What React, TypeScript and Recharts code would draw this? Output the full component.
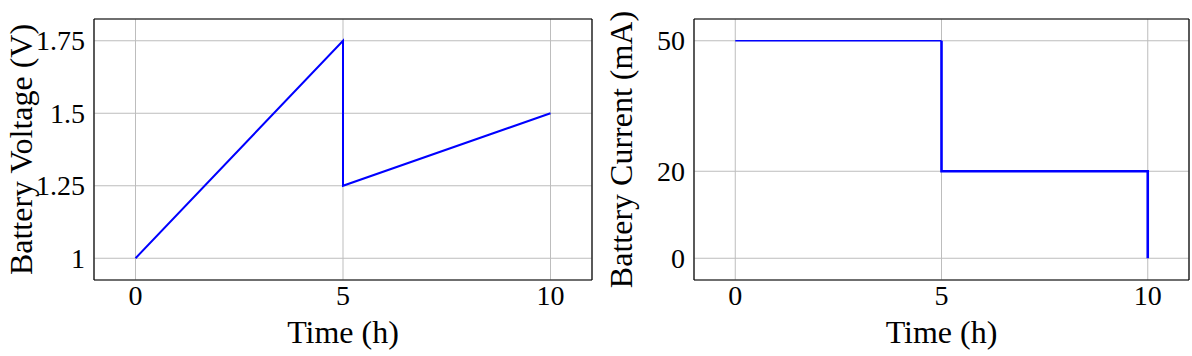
import React from "react";
import { CartesianGrid, Line, LineChart, XAxis, YAxis } from "recharts";

const voltageTime = [0, 5, 5, 10];
const voltageValues = [1, 1.75, 1.25, 1.5];
const voltageTicks = [1, 1.25, 1.5, 1.75];

const currentTimeHigh = [0, 5];
const currentValuesHigh = [50, 50];
const currentTimeLow = [5, 5, 10, 10];
const currentValuesLow = [50, 20, 20, 0];
const currentTicks = [0, 20, 50];

const timeTicks = [0, 5, 10];
const timeMarks = [0, 2.5, 5, 7.5, 10];

const FONT = "'Liberation Serif', 'Times New Roman', serif";
const TICK_SIZE = 28;
const TITLE_SIZE = 32;
const PLOT_HEIGHT = 261;
const TOP = 19;
const BOTTOM = 76;
const LEFT = 94;

const toRows = (xs: number[], ys: number[]) => xs.map((t, i) => ({ t, v: ys[i] }));

function XLabelTick({ x, y, payload }: any) {
  return (
    <text x={x} y={y + 25} textAnchor="middle" fontSize={TICK_SIZE} fontFamily={FONT} fill="#000">
      {payload.value}
    </text>
  );
}

function XMarkTick({ x, y, payload }: any) {
  const len = payload.value % 5 === 0 ? 8 : 5;
  return (
    <g stroke="#7a7a7a" strokeWidth={1.2}>
      <line x1={x} x2={x} y1={y} y2={y + len} />
      <line x1={x} x2={x} y1={y + PLOT_HEIGHT} y2={y + PLOT_HEIGHT - len} />
    </g>
  );
}

function YLabelTick({ x, y, payload }: any) {
  return (
    <text x={x - 9} y={y + 9.5} textAnchor="end" fontSize={TICK_SIZE} fontFamily={FONT} fill="#000">
      {payload.value}
    </text>
  );
}

function makeYMarkTick(plotWidth: number) {
  return function YMarkTick({ x, y }: any) {
    return (
      <g stroke="#7a7a7a" strokeWidth={1.2}>
        <line x1={x} x2={x - 8} y1={y} y2={y} />
        <line x1={x - plotWidth} x2={x - plotWidth + 8} y1={y} y2={y} />
      </g>
    );
  };
}

function yTitle(text: string, cx: number) {
  return ({ viewBox }: any) => {
    const cy = viewBox.y + viewBox.height / 2;
    return (
      <text
        x={cx}
        y={cy}
        transform={`rotate(-90 ${cx} ${cy})`}
        textAnchor="middle"
        dominantBaseline="central"
        fontSize={TITLE_SIZE}
        fontFamily={FONT}
        fill="#000"
      >
        {text}
      </text>
    );
  };
}

function xTitle({ viewBox }: any) {
  const cx = viewBox.x + viewBox.width / 2;
  return (
    <text x={cx} y={343} textAnchor="middle" fontSize={TITLE_SIZE} fontFamily={FONT} fill="#000">
      Time (h)
    </text>
  );
}

interface PanelProps {
  width: number;
  rightWidth: number;
  yDomain: [number, number];
  yTicks: number[];
  yLabel: string;
  children: React.ReactNode;
}

function Panel({ width, rightWidth, yDomain, yTicks, yLabel, children }: PanelProps) {
  const plotWidth = width - LEFT - rightWidth;
  return (
    <LineChart width={width} height={356} margin={{ top: 0, right: 0, bottom: 0, left: 0 }} style={{ fontFamily: FONT }}>
      <CartesianGrid stroke="#bdbdbd" strokeWidth={1} />
      <XAxis
        type="number"
        dataKey="t"
        domain={[-1, 11]}
        ticks={timeTicks}
        height={BOTTOM}
        tickSize={0}
        tickMargin={0}
        tickLine={false}
        axisLine={{ stroke: "#000", strokeWidth: 1.2 }}
        tick={XLabelTick}
        allowDuplicatedCategory
        label={{ content: xTitle }}
      />
      <XAxis
        xAxisId="marks"
        orientation="top"
        type="number"
        dataKey="t"
        domain={[-1, 11]}
        ticks={timeMarks}
        height={TOP}
        tickSize={0}
        tickMargin={0}
        tickLine={false}
        axisLine={{ stroke: "#000", strokeWidth: 1.2 }}
        tick={XMarkTick}
      />
      <YAxis
        type="number"
        domain={yDomain}
        ticks={yTicks}
        width={LEFT}
        tickSize={0}
        tickMargin={0}
        tickLine={false}
        axisLine={{ stroke: "#000", strokeWidth: 1.2 }}
        tick={YLabelTick}
        label={{ content: yTitle(yLabel, 21) }}
      />
      <YAxis
        yAxisId="marks"
        orientation="right"
        type="number"
        domain={yDomain}
        ticks={yTicks}
        width={rightWidth}
        tickSize={0}
        tickMargin={0}
        tickLine={false}
        axisLine={{ stroke: "#000", strokeWidth: 1.2 }}
        tick={makeYMarkTick(plotWidth)}
      />
      {children}
    </LineChart>
  );
}

export default function App() {
  return (
    <div style={{ position: "absolute", left: 0, top: 0, width: 1192, height: 356, display: "flex", background: "#fff" }}>
      <Panel width={600} rightWidth={8} yDomain={[0.925, 1.825]} yTicks={voltageTicks} yLabel="Battery Voltage (V)">
        <Line
          data={toRows(voltageTime, voltageValues)}
          dataKey="v"
          type="linear"
          stroke="#0000ff"
          strokeWidth={2}
          dot={false}
          activeDot={false}
          isAnimationActive={false}
        />
      </Panel>
      <Panel width={592} rightWidth={3} yDomain={[-5, 55]} yTicks={currentTicks} yLabel="Battery Current (mA)">
        <Line
          data={toRows(currentTimeHigh, currentValuesHigh)}
          dataKey="v"
          type="linear"
          stroke="#0000ff"
          strokeWidth={1.5}
          dot={false}
          activeDot={false}
          isAnimationActive={false}
        />
        <Line
          data={toRows(currentTimeLow, currentValuesLow)}
          dataKey="v"
          type="linear"
          stroke="#0000ff"
          strokeWidth={2.6}
          dot={false}
          activeDot={false}
          isAnimationActive={false}
        />
      </Panel>
    </div>
  );
}
